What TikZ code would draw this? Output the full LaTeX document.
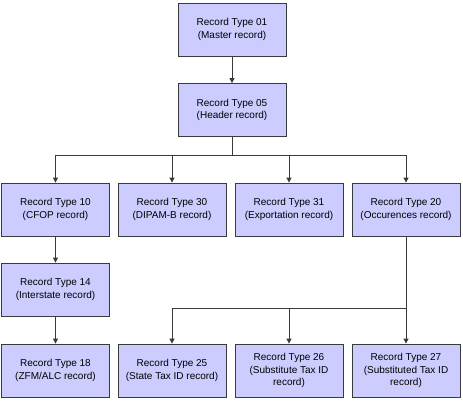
\documentclass[tikz,border=0pt]{standalone}
\usepackage{fontspec}
\setmainfont{Liberation Sans}
\usetikzlibrary{arrows.meta}
\definecolor{boxfill}{HTML}{CCCCFF}
\definecolor{boxline}{HTML}{3A3A3A}
\tikzset{
  rec/.style={draw=boxline, fill=boxfill, line width=0.8pt, minimum width=108pt, minimum height=53pt,
    align=center, inner sep=2pt, font=\fontsize{10}{12.7}\selectfont},
  conn/.style={draw=boxline, line width=0.8pt},
  arr/.style={conn, -{Triangle[length=5pt,width=5pt]}}
}
\begin{document}
\begin{tikzpicture}[x=1pt,y=1pt]
\useasboundingbox (0,0) rectangle (463,-400);
\node[rec] (r01) at (232,-29.5) {Record Type 01\\(Master record)};
\node[rec] (r05) at (232,-110) {Record Type 05\\(Header record)};
\node[rec] (r10) at (55.5,-209.5) {Record Type 10\\(CFOP record)};
\node[rec] (r30) at (172,-209.5) {Record Type 30\\(DIPAM-B record)};
\node[rec] (r31) at (289,-209.5) {Record Type 31\\(Exportation record)};
\node[rec] (r20) at (406,-209.5) {Record Type 20\\(Occurences record)};
\node[rec] (r14) at (55.5,-289.5) {Record Type 14\\(Interstate record)};
\node[rec] (r18) at (55.5,-370.5) {Record Type 18\\(ZFM/ALC record)};
\node[rec] (r25) at (172,-370.5) {Record Type 25\\(State Tax ID record)};
\node[rec] (r26) at (289,-370.5) {Record Type 26\\(Substitute Tax ID\\record)};
\node[rec] (r27) at (406,-370.5) {Record Type 27\\(Substituted Tax ID\\record)};
\coordinate (j1) at (232,-155);
\coordinate (j2) at (406,-308);
\draw[arr] (r01) -- (r05);
\draw[conn] (r05) -- (j1);
\draw[arr] (j1) -| (r10);
\draw[arr] (j1) -| (r30);
\draw[arr] (j1) -| (r31);
\draw[arr] (j1) -| (r20);
\draw[arr] (r10) -- (r14);
\draw[arr] (r14) -- (r18);
\draw[arr] (r20) -- (r27);
\draw[arr] (j2) -| (r25);
\draw[arr] (j2) -| (r26);
\end{tikzpicture}
\end{document}
